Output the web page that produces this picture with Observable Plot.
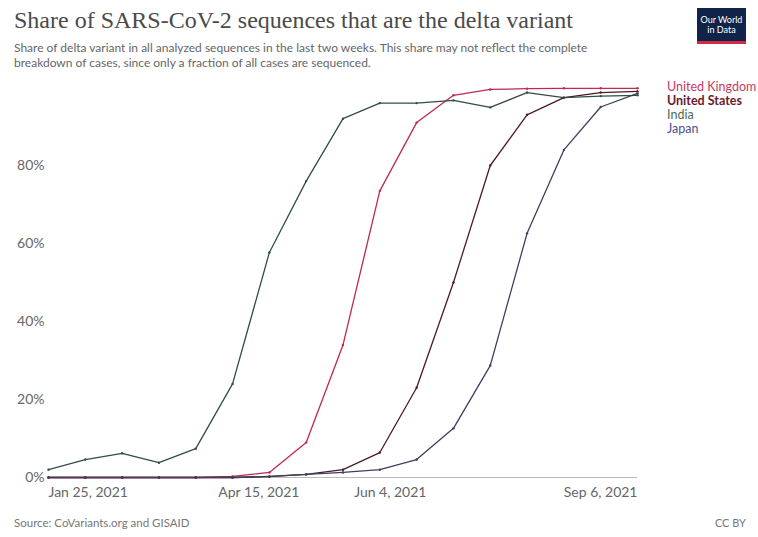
<!DOCTYPE html>
<html><head><meta charset="utf-8">
<script src="https://cdn.jsdelivr.net/npm/d3@7"></script>
<script src="https://cdn.jsdelivr.net/npm/@observablehq/plot@0.6"></script>
<style>
body{margin:0;background:#fff;font-family:Lato,"Noto Sans",sans-serif;}
#wrap{position:relative;width:758px;height:537px;overflow:hidden;}
#title{position:absolute;left:14px;top:7px;font-family:"Liberation Serif",serif;font-size:24px;color:#4a4a4a;white-space:nowrap;}
#sub{position:absolute;left:14px;top:40px;font-size:12px;line-height:15px;color:#666;width:600px;}
#logo{position:absolute;left:697px;top:8px;width:49px;height:36px;background:#102449;border-bottom:3px solid #ce2a44;color:#fff;font-size:9px;line-height:10px;text-align:center;box-sizing:border-box;padding-top:7px;}
#chart{position:absolute;left:0;top:70px;}
#legend{position:absolute;left:667px;top:80px;font-size:12.5px;line-height:14px;white-space:nowrap;}
#src{position:absolute;left:14px;top:516px;font-size:11.5px;color:#777;}
#cc{position:absolute;right:12px;top:516px;font-size:11px;color:#777;}
</style></head>
<body><div id="wrap">
<div id="title">Share of SARS-CoV-2 sequences that are the delta variant</div>
<div id="sub">Share of delta variant in all analyzed sequences in the last two weeks. This share may not reflect the complete breakdown of cases, since only a fraction of all cases are sequenced.</div>
<div id="logo">Our World<br>in Data</div>
<div id="chart"></div>
<div id="legend"></div>
<div id="src">Source: CoVariants.org and GISAID</div>
<div id="cc">CC BY</div>
</div>
<script>
const dates = ["2021-01-25","2021-02-08","2021-02-22","2021-03-08","2021-03-22","2021-04-05","2021-04-19","2021-05-03","2021-05-17","2021-05-31","2021-06-14","2021-06-28","2021-07-12","2021-07-26","2021-08-09","2021-08-23","2021-09-06"];
const countries = ["United Kingdom","United States","India","Japan"];
const uk    = [0,0,0,0,0,0.3,1.3,9,34,73.5,91,98,99.5,99.7,99.8,99.8,99.8];
const us    = [0,0,0,0,0,0,0.3,0.8,2,6.4,23,50,80,93,97.4,98.7,99];
const india = [2,4.6,6.2,3.8,7.4,24,57.7,76,92,96,96,96.7,94.9,98.7,97.4,97.8,98];
const japan = [0,0,0,0,0,0,0.2,0.8,1.3,2,4.6,12.6,28.7,62.6,84,95,98.5];
const lineColors = ["#c0284e","#4a1c24","#2f4f43","#3d3f5c"];
const labelColors = ["#c83a5e","#6b1a2a","#4d6b5a","#4b4f94"];
const xTicks = ["2021-01-25","2021-04-15","2021-06-04","2021-09-06"];
const yTicks = [0,20,40,60,80];

const seriesVals = [uk, us, india, japan];
const rows = [];
countries.forEach((c, k) => dates.forEach((d, i) => rows.push({country: c, date: new Date(d), value: seriesVals[k][i]})));
const fmt = d3.utcFormat("%b %-d, %Y");
const tickDates = xTicks.map(d => new Date(d));
const axisStyle = {tickFormat: fmt, tickSize: 0, tickPadding: 10, fill: "#666", fontSize: 14};

const plot = Plot.plot({
  width: 758, height: 437,
  marginLeft: 48, marginRight: 121, marginTop: 17, marginBottom: 30,
  style: {fontFamily: "Lato, 'Noto Sans', sans-serif", fontSize: "14px", color: "#666", background: "transparent"},
  x: {type: "utc", domain: [new Date(dates[0]), new Date(dates[dates.length-1])], label: null, axis: null},
  y: {domain: [0, 100], label: null, axis: null},
  color: {domain: countries, range: lineColors},
  marks: [
    Plot.ruleY([0], {stroke: "#bbb"}),
    Plot.axisX({...axisStyle, ticks: tickDates.slice(0, 1), textAnchor: "start"}),
    Plot.axisX({...axisStyle, ticks: tickDates.slice(1, -1), textAnchor: "middle"}),
    Plot.axisX({...axisStyle, ticks: tickDates.slice(-1), textAnchor: "end"}),
    Plot.axisY({ticks: yTicks, tickFormat: d => d + "%", tickSize: 0, fill: "#666", tickPadding: 4, fontSize: 14}),
    Plot.line(rows, {x: "date", y: "value", z: "country", stroke: "country", strokeWidth: 1.3}),
    Plot.dot(rows, {x: "date", y: "value", fill: "country", r: 1.2})
  ]
});
document.getElementById("chart").appendChild(plot);
const leg = document.getElementById("legend");
countries.forEach((c, k) => {
  const div = document.createElement("div");
  div.textContent = c;
  div.style.color = labelColors[k];
  if (k === 1) div.style.fontWeight = "bold";
  leg.appendChild(div);
});
</script>
</body></html>
